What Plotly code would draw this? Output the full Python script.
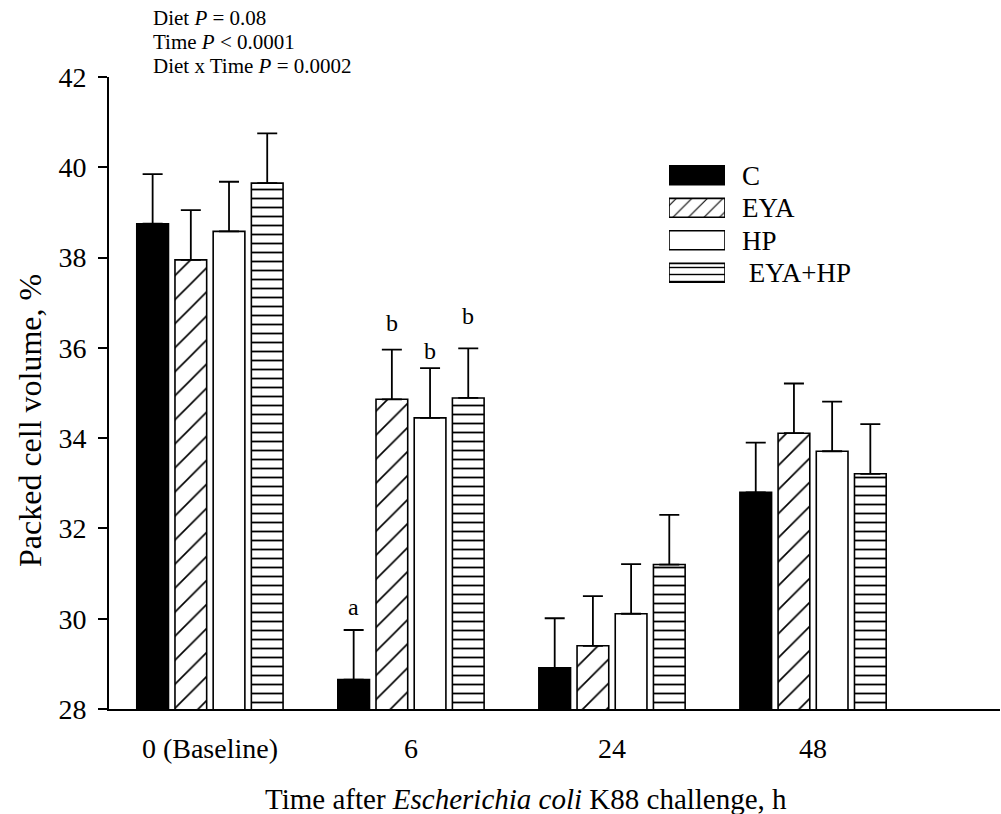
import plotly.graph_objects as go

# Packed cell volume (%) by diet over time after E. coli K88 challenge
times = ["0 (Baseline)", "6", "24", "48"]
diets = ["C", "EYA", "HP", "EYA+HP"]
legend_labels = ["C", "EYA", "HP", "\u00a0EYA+HP"]
pcv_c = [38.75, 28.65, 28.91, 32.80]
pcv_eya = [37.95, 34.86, 29.40, 34.11]
pcv_hp = [38.58, 34.45, 30.11, 33.71]
pcv_eya_hp = [39.65, 34.89, 31.20, 33.21]
sem_c = [1.1, 1.1, 1.1, 1.1]
sem_eya = [1.1, 1.1, 1.1, 1.1]
sem_hp = [1.1, 1.1, 1.1, 1.1]
sem_eya_hp = [1.1, 1.1, 1.1, 1.1]

# significance letters at 6 h: (diet index, letter, y position)
letters_6h = [(0, "a", 30.25), (1, "b", 36.55), (2, "b", 35.92), (3, "b", 36.70)]

stats_lines = [
    "Diet <i>P</i> = 0.08",
    "Time <i>P</i> &lt; 0.0001",
    "Diet x Time <i>P</i> = 0.0002",
]

FONT = "Liberation Serif, Times New Roman, serif"

# fill style per diet: colour, hatch shape, hatch size (bars / key swatches), line share
styles = [
    dict(color="black", shape="", size=8, key_size=8, solidity=0.2),
    dict(color="white", shape="/", size=17, key_size=11, solidity=0.1),
    dict(color="white", shape="", size=8, key_size=8, solidity=0.2),
    dict(color="white", shape="-", size=9, key_size=7, solidity=0.2),
]
values = [pcv_c, pcv_eya, pcv_hp, pcv_eya_hp]
sems = [sem_c, sem_eya, sem_hp, sem_eya_hp]

BARGAP = 0.24
BARGROUPGAP = 0.17


def fill(st, size):
    return dict(
        color=st["color"],
        line=dict(color="black", width=1.6),
        pattern=dict(shape=st["shape"], size=size, solidity=st["solidity"],
                     fgcolor="black", fgopacity=1, bgcolor=st["color"], fillmode="replace"),
    )


fig = go.Figure()
for name, vals, err, st in zip(diets, values, sems, styles):
    fig.add_trace(go.Bar(
        x=times, y=vals, name=name, showlegend=False,
        marker=fill(st, st["size"]),
        error_y=dict(type="data", array=err, arrayminus=[0] * len(err),
                     symmetric=False, color="black", thickness=1.8, width=10),
        xaxis="x", yaxis="y",
    ))

# key swatches drawn as horizontal bars on a small axis of their own
for i, (name, st) in enumerate(zip(diets, styles)):
    fig.add_trace(go.Bar(
        y=[i], x=[1], base=0, orientation="h", width=0.58, offset=-0.29,
        name=name, showlegend=False, hoverinfo="skip",
        marker=fill(st, st["key_size"]),
        xaxis="x2", yaxis="y2",
    ))

W, H = 1001, 814
ML, MR, MT, MB = 109, 1, 77, 105
PW, PH = W - ML - MR, H - MT - MB


def px_x(x):
    return (x - ML) / PW


def px_y(y):
    return (H - MB - y) / PH


group_pitch = (1 - BARGAP) / len(diets)
annotations = []
for i, letter, yv in letters_6h:
    offset = (i - (len(diets) - 1) / 2) * group_pitch
    annotations.append(dict(
        x=1 + offset, y=yv, xref="x", yref="y", text=letter, showarrow=False,
        font=dict(family=FONT, size=24, color="black"), xanchor="center", yanchor="middle",
    ))

for k, line in enumerate(stats_lines):
    annotations.append(dict(
        x=px_x(151), y=px_y(18 + 24 * k), xref="paper", yref="paper", text=line,
        showarrow=False, font=dict(family=FONT, size=21, color="black"),
        xanchor="left", yanchor="middle",
    ))

# axis titles
annotations.append(dict(
    x=px_x(526), y=px_y(799), xref="paper", yref="paper",
    text="Time after <i>Escherichia coli</i> K88 challenge, h", showarrow=False,
    font=dict(family=FONT, size=29, color="black"), xanchor="center", yanchor="middle",
))
annotations.append(dict(
    x=px_x(30), y=px_y(421), xref="paper", yref="paper", textangle=-90,
    text="Packed cell volume, %", showarrow=False,
    font=dict(family=FONT, size=32, color="black"), xanchor="center", yanchor="middle",
))

fig.update_layout(
    width=W, height=H,
    margin=dict(l=ML, r=MR, t=MT, b=MB, pad=0),
    paper_bgcolor="white", plot_bgcolor="white",
    barmode="group", bargap=BARGAP, bargroupgap=BARGROUPGAP,
    font=dict(family=FONT, color="black"),
    annotations=annotations,
    xaxis=dict(
        domain=[0, 1], range=[-0.502, 3.93], showgrid=False, zeroline=False,
        showline=True, linecolor="black", linewidth=1.6, ticks="",
        tickfont=dict(family=FONT, size=28), ticklabelstandoff=14,
    ),
    yaxis=dict(
        domain=[0, 1], range=[28, 42], tickvals=list(range(28, 43, 2)),
        showgrid=False, zeroline=False, showline=True, linecolor="black", linewidth=1.6,
        ticks="outside", ticklen=9, tickwidth=1.6, tickcolor="black",
        tickfont=dict(family=FONT, size=28), ticklabelstandoff=6,
    ),
    xaxis2=dict(
        domain=[px_x(669), px_x(725)], range=[0, 1], anchor="y2",
        visible=False, fixedrange=True,
    ),
    yaxis2=dict(
        domain=[px_y(289), px_y(159)], range=[3.5, -0.5], anchor="x2",
        side="right", showgrid=False, zeroline=False, showline=False, ticks="",
        tickvals=[0, 1, 2, 3], ticktext=legend_labels,
        tickfont=dict(family=FONT, size=27), ticklabelstandoff=16, fixedrange=True,
    ),
)

fig.write_html("out.html")
